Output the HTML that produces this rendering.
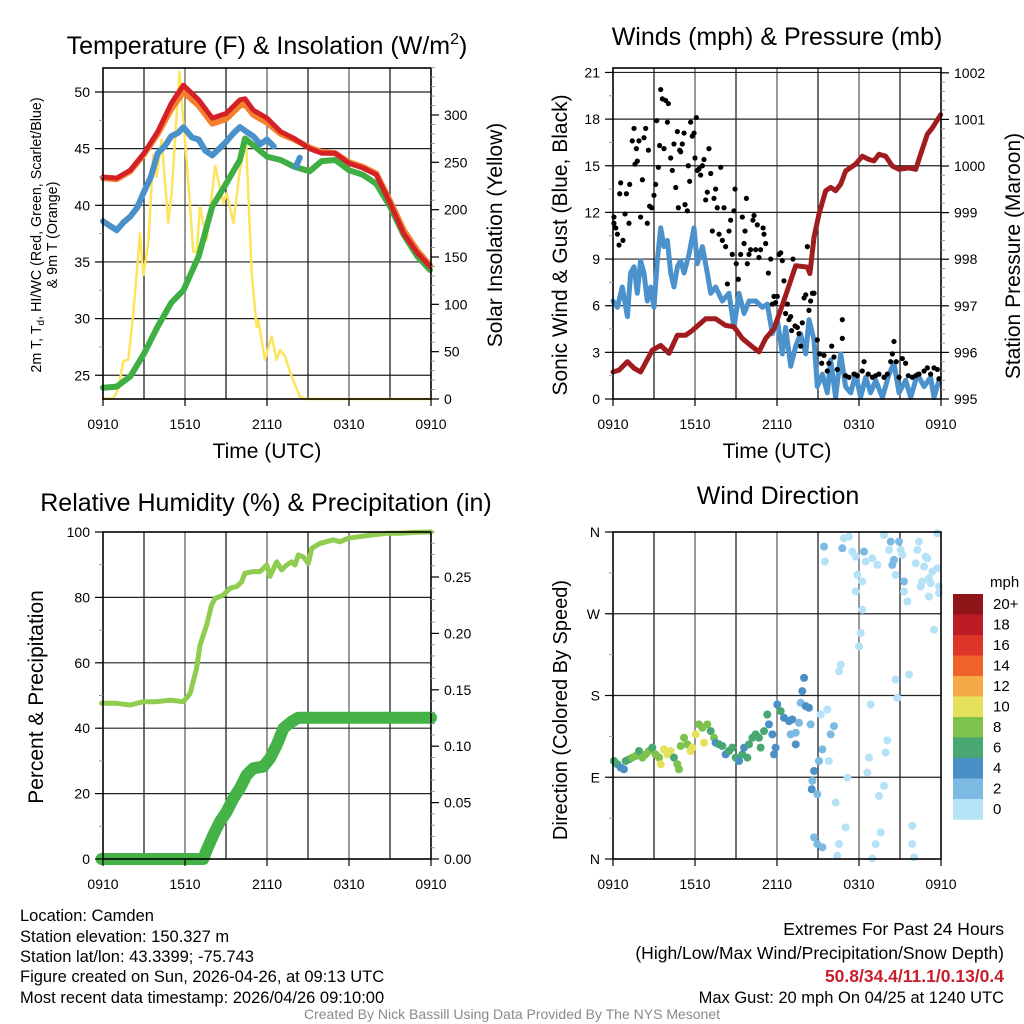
<!DOCTYPE html>
<html><head><meta charset="utf-8">
<style>
html,body{margin:0;padding:0;background:#fff;}
svg{display:block;font-family:"Liberation Sans",Arial,sans-serif;}
</style></head>
<body>
<svg id="fig" width="1024" height="1024" viewBox="0 0 1024 1024" xmlns="http://www.w3.org/2000/svg">
<rect width="1024" height="1024" fill="#fff"/>
<text x="267" y="54" font-size="25" text-anchor="middle">Temperature (F) &amp; Insolation (W/m<tspan font-size="16" dy="-10">2</tspan><tspan dy="10">)</tspan></text>
<text x="777" y="45" font-size="25" text-anchor="middle">Winds (mph) &amp; Pressure (mb)</text>
<text x="266" y="511" font-size="25" text-anchor="middle">Relative Humidity (%) &amp; Precipitation (in)</text>
<text x="778" y="504" font-size="25" text-anchor="middle">Wind Direction</text>
<text x="267" y="458" font-size="21" text-anchor="middle">Time (UTC)</text>
<text x="777" y="458" font-size="21" text-anchor="middle">Time (UTC)</text>
<text transform="translate(41,235) rotate(-90)" font-size="14.3" text-anchor="middle">2m T, T<tspan font-size="10" dy="3">d</tspan><tspan dy="-3">, HI/WC (Red, Green, Scarlet/Blue)</tspan></text>
<text transform="translate(57,235) rotate(-90)" font-size="14.3" text-anchor="middle">&amp; 9m T (Orange)</text>
<text transform="translate(502,235) rotate(-90)" font-size="21" text-anchor="middle">Solar Insolation (Yellow)</text>
<text transform="translate(567,245) rotate(-90)" font-size="21" text-anchor="middle">Sonic Wind &amp; Gust (Blue, Black)</text>
<text transform="translate(1020,256) rotate(-90)" font-size="21" text-anchor="middle">Station Pressure (Maroon)</text>
<text transform="translate(43,697) rotate(-90)" font-size="21" text-anchor="middle">Percent &amp; Precipitation</text>
<text transform="translate(567,710) rotate(-90)" font-size="20" text-anchor="middle">Direction (Colored By Speed)</text>
<g font-size="16.5">
<text x="20" y="921">Location: Camden</text>
<text x="20" y="942">Station elevation: 150.327 m</text>
<text x="20" y="962">Station lat/lon: 43.3399; -75.743</text>
<text x="20" y="982">Figure created on Sun, 2026-04-26, at 09:13 UTC</text>
<text x="20" y="1003">Most recent data timestamp: 2026/04/26 09:10:00</text>
</g>
<g font-size="17.5" text-anchor="end">
<text x="1004" y="935">Extremes For Past 24 Hours</text>
<text x="1004" y="959">(High/Low/Max Wind/Precipitation/Snow Depth)</text>
<text x="1004" y="982" fill="#c8202a" font-weight="bold">50.8/34.4/11.1/0.13/0.4</text>
<text x="1004" y="1003" font-size="16.5">Max Gust: 20 mph On 04/25 at 1240 UTC</text>
</g>
<text x="512" y="1019" font-size="14" fill="#8a8a8a" text-anchor="middle">Created By Nick Bassill Using Data Provided By The NYS Mesonet</text>
<g id="layer"></g>
</svg>
<script>
// ---------- Temperature panel data ----------
const tTimes = [0,1,2,3,4,5,5.88,7,8,9,10.02,10.39,11,12,13,14,15.12,16,17,18,19,20,21,22,23,23.93];
const temp2m = [42.5,42.4,43.1,44.6,46.5,49.0,50.6,49.3,47.7,48.1,49.3,49.4,48.4,47.7,46.5,45.9,45.0,44.6,44.6,43.7,43.3,42.7,40.2,37.5,35.8,34.6];
const temp9m = [42.4,42.3,43.0,44.5,46.3,48.5,50.0,48.8,47.2,47.6,48.8,48.9,48.0,47.3,46.3,45.8,45.1,44.7,44.6,43.8,43.4,42.8,40.4,37.8,36.0,34.7];
const dewpt = [23.9,24.0,24.9,26.9,29.3,31.4,32.5,35.5,39.9,41.9,44.0,45.9,45.3,44.3,44.0,43.4,43.0,43.9,44.0,43.1,42.7,41.9,39.9,37.4,35.5,34.3];
const wcTimes = [0,0.5,1,1.5,2,2.5,3,3.5,4,4.5,5,5.5,5.88,6.5,7,7.5,8,8.5,9,9.5,10.02,10.5,11,11.5,12,12.5];
const windChill = [38.6,38.2,37.8,38.5,39.0,39.8,41.2,42.5,44.6,45.2,46.1,46.4,46.9,46.0,45.8,44.8,44.4,45.0,45.6,46.3,46.9,46.5,46.1,45.4,45.8,45.2];
const wcTimes2 = [14.1,14.25,14.4];
const windChill2 = [43.4,43.8,44.2];
const solarTimes = [0,0.76,1.12,1.49,1.85,2.22,2.71,2.95,3.32,3.68,3.93,4.29,4.78,5.02,5.59,6.12,6.61,6.85,7.1,7.59,8.2,8.8,9.05,9.54,10.02,10.46,10.88,11.24,11.37,11.85,12.34,12.71,12.95,13.32,13.8,14.41,14.9,23.93];
const solar = [0,0.7,11,40,41.5,91,175,131,166,258,235,274,186,217,346,252,156,154,203,168,246,207,217,186,242,274,133,76,83,41.5,66,41.5,52,45,24,2.5,0,0];
const tempTicks = [25,30,35,40,45,50];
const solarTicks = [0,50,100,150,200,250,300];
const timeTicks = [0,6,12,18,24];
const timeLabels = ["0910","1510","2110","0310","0910"];

// ---------- Wind panel data ----------
const windTimes = [0,0.32,0.68,1.05,1.29,1.54,1.78,2.02,2.27,2.51,2.76,3.0,3.24,3.49,3.73,3.98,4.22,4.46,4.71,4.95,5.2,5.56,5.93,6.17,6.54,6.9,7.15,7.51,8.0,8.49,8.85,9.22,9.59,9.95,10.44,10.93,11.29,11.66,12.02,12.39,12.63,13.0,13.37,13.73,14.1,14.34,14.71,14.95,15.32,15.68,15.93,16.29,16.66,17.02,17.39,17.76,18.12,18.49,18.85,19.22,19.71,20.2,20.56,20.93,21.41,21.78,22.27,22.76,23.24,23.49,23.85];
const windSpeed = [6.3,5.9,7.2,5.3,8.1,8.5,6.8,8.9,8.1,6.3,7.2,5.9,8.9,11.0,9.8,10.2,8.1,7.2,8.5,8.9,8.1,9.3,11.0,8.7,9.8,8.1,6.8,7.2,6.3,6.8,4.6,6.8,5.5,6.3,6.3,5.9,6.1,4.2,5.1,2.9,4.6,2.1,3.4,4.2,2.9,5.1,3.8,0.8,1.6,0.4,2.5,0.1,2.9,0.8,0.4,1.6,0.1,1.4,0.4,1.2,0.1,1.6,2.3,0.4,1.2,0.1,1.6,0.8,1.4,0.1,1.2];
const gustTimes = [0.07,0.2,0.32,0.44,0.07,0.56,0.49,0.73,0.88,0.98,1.17,1.22,1.41,1.54,1.61,1.71,1.78,1.9,2.02,2.15,2.27,2.39,2.51,2.59,2.68,2.83,3.0,3.12,3.2,3.32,3.41,3.49,3.61,3.73,3.85,3.98,4.05,4.22,4.34,4.46,4.59,4.71,4.78,4.88,4.95,5.07,5.2,5.27,5.44,5.51,5.61,5.68,5.8,5.93,6.0,6.1,6.17,6.29,6.41,6.54,6.66,6.78,6.9,7.02,7.15,7.27,7.39,7.51,7.63,7.76,7.88,8.0,8.12,8.24,8.37,8.49,8.61,8.73,8.85,8.93,9.02,9.17,9.34,9.46,9.59,9.66,9.76,9.83,9.95,10.07,10.24,10.32,10.44,10.56,10.68,10.8,10.98,11.05,11.17,11.37,11.54,11.66,11.78,11.9,12.02,12.15,12.27,12.39,12.51,12.63,12.76,12.88,13.0,13.07,13.17,13.32,13.49,13.61,13.73,13.85,13.98,14.1,14.22,14.34,14.46,14.59,14.71,14.95,15.12,15.27,15.44,15.68,15.8,16.0,16.17,16.41,16.78,16.78,17.02,17.27,17.63,17.88,18.24,18.37,18.68,18.98,19.22,19.46,19.83,20.07,20.32,20.44,20.56,20.73,20.93,21.17,21.41,21.61,21.9,22.15,22.39,22.76,23.0,23.24,23.49,23.73,23.85];
const gustSpeed = [11.7,11.0,10.6,9.9,11.3,13.9,13.2,10.2,11.9,13.2,11.3,13.8,16.6,17.4,15.1,16.1,15.3,16.6,11.7,14.1,16.8,17.4,11.3,16.0,12.4,12.3,13.1,13.8,17.9,14.9,16.3,19.9,19.3,16.1,19.2,17.8,19.0,15.5,14.7,16.4,13.6,17.2,12.3,16.0,15.9,16.4,17.1,12.5,12.1,15.0,14.0,17.8,16.9,17.1,15.5,18.1,14.7,14.8,14.4,15.0,15.4,12.8,13.3,16.1,14.5,10.8,12.9,13.5,12.3,10.6,14.9,10.2,12.3,9.8,7.4,10.8,11.5,9.3,12.1,13.5,8.7,7.7,9.3,11.7,10.0,10.8,12.9,8.7,9.3,9.6,11.5,11.8,9.6,11.2,9.1,9.6,11.0,10.6,10.0,8.1,9.0,6.1,6.6,6.2,6.6,9.3,9.4,8.9,7.6,5.5,6.1,5.1,5.3,4.4,9.0,4.7,4.6,4.2,3.4,4.9,6.5,6.7,9.8,5.7,6.3,6.8,6.8,3.8,2.9,2.3,2.8,1.8,2.3,3.4,2.7,1.9,3.9,5.1,1.5,1.4,1.6,1.5,1.8,2.4,1.6,1.4,1.5,1.6,1.4,1.6,2.4,2.9,3.7,2.4,1.4,2.6,2.3,1.5,1.4,1.5,1.6,1.8,2.0,1.6,2.0,1.9,1.3];
const presTimes = [0,0.44,1.05,1.54,2.02,2.88,3.49,4.1,4.71,5.32,5.8,6.78,7.51,8.24,8.85,9.46,10.2,10.68,11.17,11.78,12.39,13.0,13.37,14.22,14.41,14.71,15.07,15.56,15.93,16.29,16.66,17.02,17.76,18.24,18.73,19.1,19.46,19.95,20.44,20.93,21.66,22.15,22.51,23.0,23.37,23.98];
const pressure = [995.58,995.62,995.80,995.66,995.58,996.05,996.15,995.98,996.37,996.37,996.47,996.72,996.72,996.58,996.55,996.30,996.12,996.01,996.30,996.51,997.01,997.54,997.86,997.83,997.69,998.47,998.97,999.47,999.54,999.47,999.61,999.89,1000.04,1000.21,1000.14,1000.11,1000.25,1000.21,1000.00,999.93,999.96,999.93,1000.25,1000.68,1000.82,1001.10];
const windTicks = [0,3,6,9,12,15,18,21];
const presTicks = [995,996,997,998,999,1000,1001,1002];

// ---------- Humidity panel data ----------
const rhTimes = [-0.1,1,1.98,2.95,3.93,4.9,5.88,6.37,6.85,7.1,7.59,7.95,8.2,8.8,9.29,9.78,10.15,10.39,11,11.49,11.98,12.22,12.71,13.07,13.44,13.8,14.05,14.29,14.66,15.02,15.27,15.88,16.85,17.34,17.95,19.29,20.76,21.73,22.95,24];
const rh = [47.6,47.6,47.1,48.1,48.1,48.6,48.1,50.6,58.3,65.4,71.6,77.7,79.7,80.7,82.8,83.3,84.8,87.4,87.9,87.9,89.9,86.4,90.9,88.4,89.9,90.9,89.9,93.0,92.4,90.4,95.0,96.5,97.6,97.0,98.1,98.9,99.6,99.6,99.9,100];
const prTimes = [-0.1,7.34,7.59,8.07,8.56,9.05,9.54,10.02,10.51,11,11.73,12.22,12.71,13.2,13.8,14.29,24];
const precip = [0,0,0.008,0.0213,0.0332,0.042,0.0538,0.0627,0.0745,0.0804,0.0819,0.0893,0.1011,0.1158,0.1217,0.1253,0.1253];
const rhTicks = [0,20,40,60,80,100];
const prTicks = [0,0.05,0.10,0.15,0.20,0.25];

// ---------- Wind direction panel data ----------
const dirTimes = [0.07,0.32,0.56,0.8,0.93,1.17,1.41,1.66,1.9,2.15,2.39,2.63,2.88,3.12,3.37,3.49,3.73,3.98,4.22,4.46,4.71,4.83,4.95,5.2,5.44,5.68,5.8,6.05,6.29,6.54,6.66,6.9,7.15,7.39,7.51,7.76,8.0,8.24,8.49,8.73,8.98,9.22,9.46,9.59,9.83,9.95,10.2,10.44,10.68,10.8,11.05,11.29,11.41,11.66,11.78,11.9,12.02,12.27,12.51,12.88,13.12,13.0,13.37,13.37,13.61,13.73,13.85,13.98,14.1,14.34,14.46,14.71,14.59,14.54,14.95,14.71,14.95,15.32,15.2,15.68,15.07,15.32,15.8,15.93,16.17,16.29,16.41,16.54,16.66,16.54,17.02,17.15,18.0,18.12,18.24,18.61,18.73,18.85,18.98,19.22,19.46,19.59,19.83,19.95,20.07,20.68,20.8,21.66,21.9,21.9,22.02,23.49,15.44,15.51,16.78,16.9,17.27,17.51,17.76,17.88,17.76,18.24,18.37,18.49,18.98,19.34,19.83,20.2,20.32,20.44,20.56,20.68,20.93,21.05,21.17,21.29,21.29,21.54,22.15,22.27,22.39,22.63,22.76,22.88,23.0,23.12,23.24,23.37,23.73,23.73,23.85,23.85,23.12,22.51];
const dirDeg = [107.9,104.3,100.6,98.8,107.9,109.7,111.6,113.4,118.9,111.6,115.2,118.9,122.6,115.2,111.6,104.3,120.7,115.2,118.9,111.6,104.3,98.8,124.4,133.5,126.2,118.9,122.6,137.2,148.2,144.5,128.0,148.2,140.8,133.5,128.0,126.2,124.4,115.2,118.9,122.6,111.6,107.9,115.2,122.6,111.6,126.2,133.5,137.2,133.5,122.6,140.8,159.1,148.2,137.2,115.2,122.6,170.1,162.8,155.5,151.8,153.6,137.2,139.0,126.2,150.0,172.0,184.8,199.4,168.3,166.5,148.2,96.9,86.0,76.8,71.3,23.8,16.4,12.8,159.1,164.6,107.9,120.7,107.9,137.2,146.3,62.2,3.6,16.4,214.0,206.7,34.7,89.6,234.1,248.8,274.4,95.1,111.6,170.1,0.5,16.4,69.5,29.3,80.5,117.1,130.6,197.6,177.4,203.0,36.6,16.4,1.8,252.4,343.9,327.5,342.1,353.1,354.9,338.4,332.9,312.8,294.5,305.5,338.4,327.5,331.1,323.8,356.7,340.3,349.4,323.8,329.3,312.8,349.4,340.3,334.8,305.5,294.5,283.5,325.6,340.3,349.4,305.5,322.0,332.9,331.1,309.2,303.7,316.5,358.6,320.1,300.0,292.7,289.0,300.0];
const dirSpeed = [6,6,4,4,6,6,8,8,6,8,8,8,6,8,8,10,10,10,10,6,8,8,8,8,8,10,10,10,8,8,10,8,6,8,4,6,6,4,6,6,6,4,6,4,6,6,6,6,6,6,6,6,4,4,4,4,4,6,4,4,4,2,2,4,2,2,4,4,4,4,2,4,2,4,2,2,2,2,0,0,2,2,0,2,2,0,0,0,0,0,0,0,0,0,0,0,0,0,0,0,0,0,0,0,0,0,0,0,0,0,0,0,2,0,2,0,0,0,0,0,0,0,2,0,0,0,0,0,2,2,2,0,2,0,0,2,0,0,0,0,0,0,0,0,0,0,0,0,0,0,0,0,0,0];
const dirTicks = [0,90,180,270,360];
const dirLabels = ["N","E","S","W","N"];
const legendLabels = ["0","2","4","6","8","10","12","14","16","18","20+"];
const legendColors = ["#b5e2f7","#7cb9e3","#4a8fc5","#48a773","#7cc24c","#e6e15a","#f6aa45","#f06229","#de3429","#bb1b24","#8f1519"];

// ---------- helpers ----------
const NS = "http://www.w3.org/2000/svg";
const layer = document.getElementById("layer");
function mk(tag, attrs, parent) {
  const e = document.createElementNS(NS, tag);
  for (const k in attrs) e.setAttribute(k, attrs[k]);
  (parent || layer).appendChild(e);
  return e;
}
function panel(L, R, T, B) {
  return { L, R, T, B, x: h => L + h * (R - L) / 24 };
}
const P1 = panel(103, 431, 68, 399);
const P2 = panel(613, 941, 68, 399);
const P3 = panel(103, 431, 532, 859);
const P4 = panel(613, 941, 532, 859);
const yT = v => 92 + (50 - v) * 11.33;
const yS = w => 399 - w * 284 / 300;
const yW = m => 399 - m * 15.55;
const yP = p => 399 - (p - 995) * 46.6;
const yRH = v => 859 - v * 3.27;
const yPr = v => 859 - v * 1128;
const yD = d => 859 - d * 327 / 360;

function grid(P, ys, name) {
  const g = mk("g", {});
  
  
  for (let h = 3; h < 24; h += 3) {
    const x = P.x(h);
    const l = mk("line", { x1: x, x2: x, y1: P.T, y2: P.B, stroke: h % 6 === 0 ? "#555" : "#111", "stroke-width": 1.2 }, g);
    
    
  }
  ys.forEach(y => {
    if (y <= P.T + 1 || y >= P.B - 1) return;
    const l = mk("line", { x1: P.L, x2: P.R, y1: y, y2: y, stroke: "#222", "stroke-width": 1.2 }, g);
    
    
  });
}
function frame(P, name) {
  const r = mk("rect", { x: P.L, y: P.T, width: P.R - P.L, height: P.B - P.T, fill: "none", stroke: "#000", "stroke-width": 1.6 });
  
  
}
function xAxis(P, name) {
  const g = mk("g", { "font-size": 14, "text-anchor": "middle" });
  
  
  timeTicks.forEach((h, i) => {
    const x = P.x(h);
    mk("line", { x1: x, x2: x, y1: P.B, y2: P.B + 7, stroke: "#000", "stroke-width": 1.2 }, g);
    const t = mk("text", { x: x, y: P.B + 30 }, g);
    t.textContent = timeLabels[i];
    
    
  });
}
function yAxis(P, ticks, scale, minorStep, lo, hi, side, fmt, name) {
  const g = mk("g", { "font-size": 14, "text-anchor": side === "left" ? "end" : "start" });
  
  
  const ax = side === "left" ? P.L : P.R;
  const d = side === "left" ? -1 : 1;
  for (let v = lo; v <= hi + 1e-9; v += minorStep) {
    const y = scale(v);
    if (y < P.T - 0.5 || y > P.B + 0.5) continue;
    mk("line", { x1: ax, x2: ax + d * 4, y1: y, y2: y, stroke: "#999", "stroke-width": 1 }, g);
  }
  ticks.forEach((v, i) => {
    const y = scale(v);
    mk("line", { x1: ax, x2: ax + d * 8, y1: y, y2: y, stroke: "#000", "stroke-width": 1.2 }, g);
    const t = mk("text", { x: ax + d * 13, y: y + 5 }, g);
    t.textContent = fmt(v, i);
    
    
  });
}
function line(P, times, vals, scale, color, w, name, op) {
  const pts = times.map((h, i) => P.x(h).toFixed(1) + "," + scale(vals[i]).toFixed(1)).join(" ");
  const pl = mk("polyline", { points: pts, fill: "none", stroke: color, "stroke-width": w, "stroke-linejoin": "round", "stroke-linecap": "round", opacity: op || 1 });
  
  
  return pl;
}

// ---------- Panel 1: temperature ----------
grid(P1, tempTicks.map(yT), "temperature");
line(P1, solarTimes, solar, yS, "#fde45c", 2.5, "solar-insolation-line");
line(P1, tTimes, dewpt, yT, "#3fae45", 6, "dewpoint-line");
line(P1, wcTimes, windChill, yT, "#4a90c9", 6, "wind-chill-line");
line(P1, wcTimes2, windChill2, yT, "#4a90c9", 6, "wind-chill-line-segment");
line(P1, tTimes, temp9m, yT, "#f57f2a", 6, "temperature-9m-line");
line(P1, tTimes, temp2m, yT, "#d42027", 5, "temperature-2m-line");
frame(P1, "temperature");
xAxis(P1, "temperature");
yAxis(P1, tempTicks, yT, 2.5, 22.5, 52.5, "left", v => String(v), "temperature-y-axis");
yAxis(P1, solarTicks, yS, 10, 0, 350, "right", v => String(v), "solar-y-axis");

// ---------- Panel 2: wind & pressure ----------
grid(P2, windTicks.map(yW), "wind");
line(P2, windTimes, windSpeed, yW, "#4b92cc", 5, "sonic-wind-line");
const gg = mk("g", {});


gustTimes.forEach((h, i) => {
  const c = mk("circle", { cx: P2.x(h), cy: yW(gustSpeed[i]), r: 2.6, fill: "#000" }, gg);
  
  
});
line(P2, presTimes, pressure, yP, "#a01c1e", 5, "pressure-line");
frame(P2, "wind");
xAxis(P2, "wind");
yAxis(P2, windTicks, yW, 1.5, 0, 21, "left", v => String(v), "wind-y-axis");
yAxis(P2, presTicks, yP, 0.2, 995, 1002, "right", v => String(v), "pressure-y-axis");

// ---------- Panel 3: humidity ----------
grid(P3, rhTicks.map(yRH), "humidity");
line(P3, rhTimes, rh, yRH, "#8fcc4f", 5, "relative-humidity-line");
line(P3, prTimes, precip, yPr, "#45b248", 12, "precipitation-line");
frame(P3, "humidity");
xAxis(P3, "humidity");
yAxis(P3, rhTicks, yRH, 10, 0, 100, "left", v => String(v), "humidity-y-axis");
yAxis(P3, prTicks, yPr, 0.01, 0, 0.29, "right", v => v.toFixed(2), "precipitation-y-axis");

// ---------- Panel 4: wind direction ----------
grid(P4, dirTicks.map(yD), "direction");
const dg = mk("g", {});


dirTimes.forEach((h, i) => {
  const idx = Math.min(10, Math.floor(dirSpeed[i] / 2));
  const c = mk("circle", { cx: P4.x(h), cy: yD(dirDeg[i]), r: 4, fill: legendColors[idx] }, dg);
  
  
});
frame(P4, "direction");
xAxis(P4, "direction");
yAxis(P4, dirTicks, yD, 45, 0, 360, "left", (v, i) => dirLabels[i], "direction-y-axis");

// legend
const lg = mk("g", { "font-size": 15 });


const lt = mk("text", { x: 990, y: 587 }, lg);
lt.textContent = "mph";


for (let k = 0; k < legendLabels.length; k++) {
  const j = legendLabels.length - 1 - k;
  const y = 594 + k * 20.5;
  const r = mk("rect", { x: 953, y: y, width: 30, height: 20.8, fill: legendColors[j] }, lg);
  
  
  const t = mk("text", { x: 993, y: y + 15 }, lg);
  t.textContent = legendLabels[j];
  
  
}
</script>
</body></html>
